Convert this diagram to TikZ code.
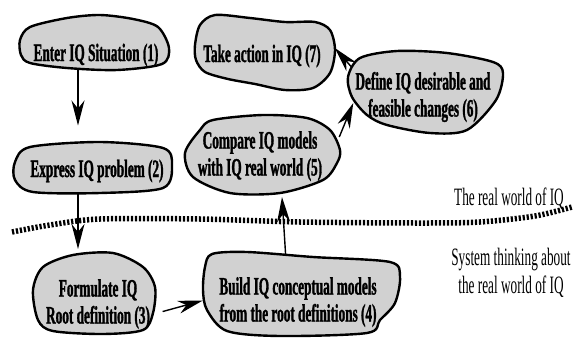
\documentclass[tikz,border=0pt]{standalone}
\usepackage{fontspec}
\usepackage{tikz}
\usetikzlibrary{arrows.meta}
\newfontfamily\condfont{Liberation Serif}[FakeStretch=0.53,BoldFeatures={FakeBold=1.2}]
\pgfdeclarelayer{edgelayer}
\pgfdeclarelayer{background}
\pgfsetlayers{edgelayer,background,main}

\begin{document}
\begin{tikzpicture}[x=1pt,y=-1pt]
\tikzstyle{every node}=[inner sep=0pt,align=center,font=\condfont\fontsize{25}{27}\selectfont\bfseries];
\tikzstyle{blob}=[draw,line width=2.4pt,fill=black!18,line join=round];
\tikzstyle{arr}=[line width=1.4pt,-{Stealth[length=25pt,width=13pt,inset=8pt]}];
\tikzstyle{plain}=[font=\condfont\fontsize{25}{28}\selectfont];
\useasboundingbox (0,0) rectangle (579,338);

\path (96,55) node (s1) {Enter IQ Situation (1)};
\path (97,171) node (s2) {Express IQ problem (2)};
\path (98,304) node (s3) {Formulate IQ\\Root definition (3)};
\path (298,302) node (s4) {Build IQ conceptual models\\from the root definitions (4)};
\path (260,156) node (s5) {Compare IQ models\\with IQ real world (5)};
\path (423,97) node (s6) {Define IQ desirable and\\feasible changes (6)};
\path (262,56) node (s7) {Take action in IQ (7)};
\path (564,199) node[plain,anchor=east] (real) {The real world of IQ};
\path (511,273) node[plain] (sys) {System thinking about\\the real world of IQ};

\begin{pgfonlayer}{background}
\path[blob] plot[smooth cycle] coordinates {(20,40) (30,27) (67,18) (100,15) (133,19) (158,27) (169,48) (162,64) (117,70) (67,68) (30,63) (21,55)};
\path[blob] plot[smooth cycle] coordinates {(15,162) (30,147) (100,142) (163,148) (172,165) (163,188) (100,193) (33,192) (15,180)};
\path[blob] plot[smooth cycle] coordinates {(33,290) (43,267) (73,255) (113,253) (143,267) (155,287) (153,313) (143,330) (103,334) (53,331) (38,320)};
\path[blob] plot[smooth cycle] coordinates {(203,290) (205,267) (212,254) (247,252) (313,257) (390,262) (400,277) (395,303) (380,320) (367,333) (280,336) (227,331) (207,310)};
\path[blob] plot[smooth cycle] coordinates {(185,153) (200,130) (213,120) (263,115) (307,118) (330,130) (340,150) (337,163) (323,180) (280,193) (230,193) (193,177)};
\path[blob] plot[smooth cycle] coordinates {(348,77) (360,58) (397,51) (447,53) (493,62) (503,73) (496,100) (467,130) (430,133) (387,125) (367,115) (352,97)};
\path[blob] plot[smooth cycle] coordinates {(195,45) (200,25) (215,15) (250,18) (285,22) (315,22) (330,30) (335,50) (330,73) (313,88) (285,90) (255,84) (228,79) (205,72) (196,60)};
\end{pgfonlayer}

% the border between the two worlds
\draw[line width=5.5pt,dash pattern=on 2.2pt off 1.8pt] plot[smooth] coordinates {(12,232) (50,225) (100,219) (200,219) (300,222) (420,223) (480,222) (535,216) (572,207)};

\begin{pgfonlayer}{edgelayer}
\draw[arr,shorten >=34pt] ([xshift=-18pt]s1.south) -- ([xshift=-19pt]s2.north);
\draw[arr,shorten >=30pt] ([xshift=-19pt]s2.south) -- ([xshift=-20pt]s3.north);
\draw[arr,shorten <=13pt,shorten >=17pt] ([yshift=-11pt]s3.east) -- ([yshift=6pt]s4.west);
\draw[arr,shorten >=16pt] ([xshift=-11pt]s4.north) -- ([xshift=21pt]s5.south);
\draw[arr] ([xshift=17pt,yshift=19pt]s5.east) -- ([xshift=-2pt,yshift=-6pt]s6.west);
\draw[arr] ([xshift=-4pt,yshift=5pt]s6.north west) -- ([xshift=14pt,yshift=8pt]s7.east);
\end{pgfonlayer}
\end{tikzpicture}
\end{document}
